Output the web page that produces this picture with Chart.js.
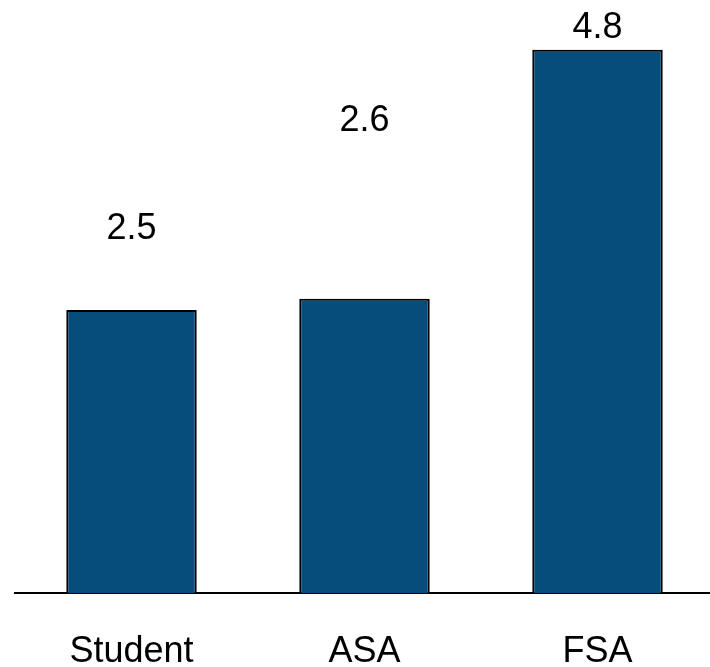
<!DOCTYPE html>
<html>
<head>
<meta charset="utf-8">
<script src="https://cdn.jsdelivr.net/npm/chart.js@4.4.0/dist/chart.umd.min.js"></script>
<style>
  html, body { margin: 0; padding: 0; background: #fff; overflow: hidden; }
  /* a little wider than the window, the axis runs off the right edge */
  #wrap { width: 714px; height: 667px; }
</style>
</head>
<body>
<div id="wrap"><canvas id="barChart"></canvas></div>
<script>
const categories = ['Student', 'ASA', 'FSA'];
const values = [2.5, 2.6, 4.8];
// where the value labels sit, in data units (they float above the bars unevenly)
const labelPos = [3.22, 4.17, 4.99];

const barColor = '#064d7b';
const fontFamily = "'Liberation Sans', Arial, Helvetica, sans-serif";

// draws the number above each bar
const valueLabels = {
  id: 'valueLabels',
  afterDatasetsDraw(chart) {
    const ctx = chart.ctx;
    const meta = chart.getDatasetMeta(0);
    const yScale = chart.scales.y;
    ctx.save();
    ctx.font = '36px ' + fontFamily;
    ctx.fillStyle = '#000';
    ctx.textAlign = 'center';
    ctx.textBaseline = 'middle';
    meta.data.forEach((bar, i) => {
      ctx.fillText(values[i].toFixed(1), bar.x, yScale.getPixelForValue(labelPos[i]));
    });
    ctx.restore();
  }
};

new Chart(document.getElementById('barChart'), {
  type: 'bar',
  data: {
    labels: categories,
    datasets: [{
      data: values,
      backgroundColor: barColor,
      borderColor: '#000',
      borderWidth: 2,
      barPercentage: 0.56,
      categoryPercentage: 1
    }]
  },
  options: {
    responsive: true,
    maintainAspectRatio: false,
    animation: false,
    layout: { padding: { left: 15, right: 0, top: 0, bottom: 0 } },
    plugins: {
      legend: { display: false },
      tooltip: { enabled: false }
    },
    scales: {
      x: {
        grid: { display: false, drawTicks: false },
        border: { display: true, color: '#000', width: 2 },
        ticks: {
          color: '#000',
          padding: 37,
          font: { family: fontFamily, size: 36 }
        },
        afterFit(scale) { scale.height = 74; }
      },
      y: {
        display: false,
        min: 0,
        max: 5.24
      }
    }
  },
  plugins: [valueLabels]
});
</script>
</body>
</html>
